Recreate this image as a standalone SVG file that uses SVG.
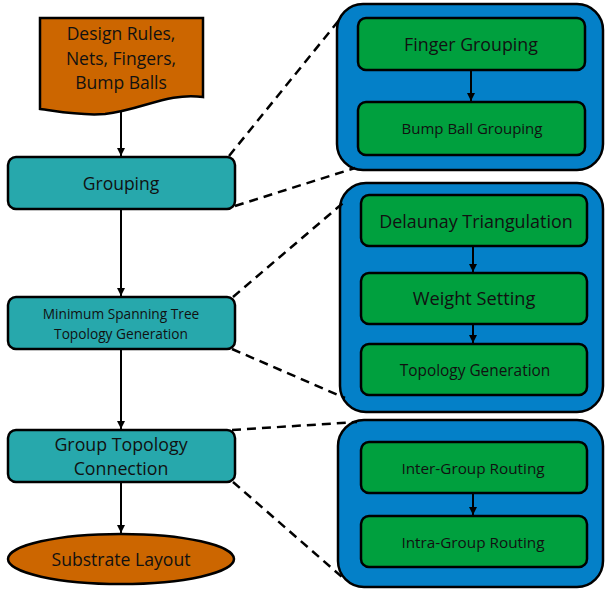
<svg xmlns="http://www.w3.org/2000/svg" width="605" height="589" viewBox="0 0 605 589">
<defs>
<marker id="ah" viewBox="0 0 10 10" refX="10" refY="5" markerWidth="4" markerHeight="4" orient="auto" markerUnits="strokeWidth">
<path d="M0,0 L10,5 L0,10 z" fill="#000"/>
</marker>
<style>
text{font-family:"Open Sans","Liberation Sans",sans-serif;fill:#111;text-anchor:middle;dominant-baseline:central}
.orange{fill:#CC6600;stroke:#000;stroke-width:2.5}
.teal{fill:#27A8AC;stroke:#000;stroke-width:2.5}
.blue{fill:#0480C8;stroke:#000;stroke-width:2.5}
.green{fill:#00A03E;stroke:#000;stroke-width:2.5}
.arr{stroke:#000;stroke-width:2;fill:none;marker-end:url(#ah)}
.dash{stroke:#000;stroke-width:2.5;fill:none;stroke-dasharray:9,6}
</style>
</defs>
<rect width="605" height="589" fill="#fff"/>
<g id="panel1">
<rect class="blue" x="337" y="4" width="266" height="166" rx="26"/>
</g>
<g id="panel2">
<rect class="blue" x="340" y="183" width="263" height="229" rx="26"/>
</g>
<g id="panel3">
<rect class="blue" x="338" y="420" width="265" height="167" rx="26"/>
</g>
<g id="connectors">
<line class="arr" x1="121" y1="112" x2="121" y2="156"/>
<line class="arr" x1="121" y1="209" x2="121" y2="296"/>
<line class="arr" x1="121" y1="349" x2="121" y2="429"/>
<line class="arr" x1="121" y1="482" x2="121" y2="533"/>
<line class="arr" x1="471" y1="70" x2="471" y2="101"/>
<line class="arr" x1="473" y1="246" x2="473" y2="272"/>
<line class="arr" x1="473" y1="324" x2="473" y2="343"/>
<line class="arr" x1="473" y1="493" x2="473" y2="515"/>
<line class="dash" x1="229" y1="156" x2="340" y2="19"/>
<line class="dash" x1="235" y1="206" x2="355" y2="168"/>
<line class="dash" x1="233" y1="297" x2="343" y2="203"/>
<line class="dash" x1="232" y1="349" x2="345" y2="398"/>
<line class="dash" x1="232" y1="430" x2="357" y2="422"/>
<line class="dash" x1="233" y1="482" x2="342" y2="577"/>
</g>
<g id="input">
<path class="orange" d="M40,18 H203 V97 C168,92 142,110 105,114 C78,116 56,111 40,109 Z"/>
<text x="121" y="33" font-size="17.5">Design Rules,</text>
<text x="121" y="58" font-size="17.5">Nets, Fingers,</text>
<text x="121" y="82" font-size="17.5">Bump Balls</text>
</g>
<g id="grouping">
<rect class="teal" x="8" y="157" width="227" height="52" rx="8"/>
<text x="121" y="183" font-size="17.5">Grouping</text>
</g>
<g id="mst">
<rect class="teal" x="8" y="297" width="227" height="52" rx="8"/>
<text x="121" y="313" font-size="13.7">Minimum Spanning Tree</text>
<text x="121" y="333" font-size="13.7">Topology Generation</text>
</g>
<g id="gtc">
<rect class="teal" x="8" y="430" width="227" height="52" rx="8"/>
<text x="121" y="444" font-size="17.8">Group Topology</text>
<text x="121" y="468" font-size="17.8">Connection</text>
</g>
<g id="layout">
<ellipse class="orange" cx="121" cy="559" rx="113" ry="25"/>
<text x="121" y="559" font-size="17.6">Substrate Layout</text>
</g>
<g id="finger">
<rect class="green" x="358" y="18" width="227" height="52" rx="8"/>
<text x="471" y="44" font-size="17.8">Finger Grouping</text>
</g>
<g id="bump">
<rect class="green" x="358" y="102" width="227" height="53" rx="8"/>
<text x="472" y="128" font-size="15">Bump Ball Grouping</text>
</g>
<g id="delaunay">
<rect class="green" x="361" y="195" width="226" height="51" rx="8"/>
<text x="476" y="221" font-size="17.9">Delaunay Triangulation</text>
</g>
<g id="weight">
<rect class="green" x="361" y="273" width="226" height="51" rx="8"/>
<text x="474" y="298" font-size="18.2">Weight Setting</text>
</g>
<g id="topo">
<rect class="green" x="361" y="344" width="226" height="51" rx="8"/>
<text x="475" y="370" font-size="15.4">Topology Generation</text>
</g>
<g id="inter">
<rect class="green" x="361" y="442" width="226" height="51" rx="8"/>
<text x="473" y="468" font-size="15.3">Inter-Group Routing</text>
</g>
<g id="intra">
<rect class="green" x="361" y="516" width="226" height="51" rx="8"/>
<text x="473" y="542" font-size="15.3">Intra-Group Routing</text>
</g>
</svg>
